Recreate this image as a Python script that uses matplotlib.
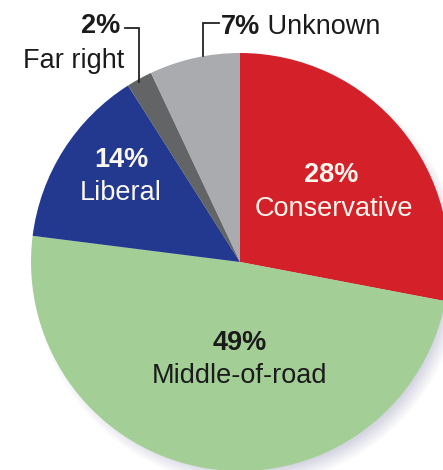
import numpy as np
import matplotlib
matplotlib.use("Agg")
import matplotlib.pyplot as plt

# Political leaning shares (percent)
categories = ["Conservative", "Middle-of-road", "Liberal", "Far right", "Unknown"]
shares = [28, 49, 14, 2, 7]
colors = ["#d42129", "#a3cf97", "#22398f", "#636466", "#a9abae"]

W, H = 443, 470
fig = plt.figure(figsize=(W / 100, H / 100), dpi=100)
ax = fig.add_axes([0, 0, 1, 1])

cx, cy, r = 240, H - 262, 209

# soft drop shadow below and to the right of the pie
yy, xx = np.mgrid[0:H, 0:W]
d = np.hypot(xx - (cx + 7), (H - yy) - (cy - 9))
alpha = np.clip((r + 6 - d) / 16.0, 0, 1) * 0.6
shadow = np.zeros((H, W, 4))
shadow[..., 0] = 0.74
shadow[..., 1] = 0.74
shadow[..., 2] = 0.82
shadow[..., 3] = alpha
ax.imshow(shadow, extent=(0, W, 0, H), origin="upper", zorder=0, interpolation="bilinear")

ax.pie(shares, colors=colors, startangle=90, counterclock=False,
       center=(cx, cy), radius=r, frame=True,
       wedgeprops=dict(linewidth=0, zorder=1))

ax.set_xlim(0, W)
ax.set_ylim(0, H)
ax.set_aspect("equal")
ax.axis("off")

font = ["Liberation Sans", "DejaVu Sans"]
fs = 19.5
light = "#fbf7ee"
dark = "#1b1b1b"


def label(x, y, s, color, bold=False, ha="center"):
    ax.text(x, H - y, s, ha=ha, va="baseline", fontsize=fs, color=color,
            fontweight="bold" if bold else "normal", family=font, zorder=5)


# inside labels
label(331, 182, f"{shares[0]}%", light, bold=True)
label(334, 216, categories[0], light)
label(240, 350, f"{shares[1]}%", dark, bold=True)
label(240, 383, categories[1], dark)
label(121, 167, f"{shares[2]}%", light, bold=True)
label(121, 200, categories[2], light)

# outside labels with leader lines
label(120, 33, f"{shares[3]}%", dark, bold=True, ha="right")
label(124, 68, categories[3], dark, ha="right")
ax.plot([125, 139, 139], [H - 28, H - 28, H - 82], color="#222222", lw=1.3,
        solid_joinstyle="miter", zorder=4)

t = ax.text(221, H - 34, f"{shares[4]}%", ha="left", va="baseline", fontsize=fs,
            color=dark, fontweight="bold", family=font, zorder=5)
ax.annotate(" " + categories[4], xycoords=t, xy=(1, 0), va="bottom", ha="left",
            fontsize=fs, color=dark, family=font, zorder=5)
ax.plot([203, 203, 219], [H - 56, H - 23, H - 23], color="#222222", lw=1.3,
        solid_joinstyle="miter", zorder=4)

fig.savefig("out.png", dpi=100)
